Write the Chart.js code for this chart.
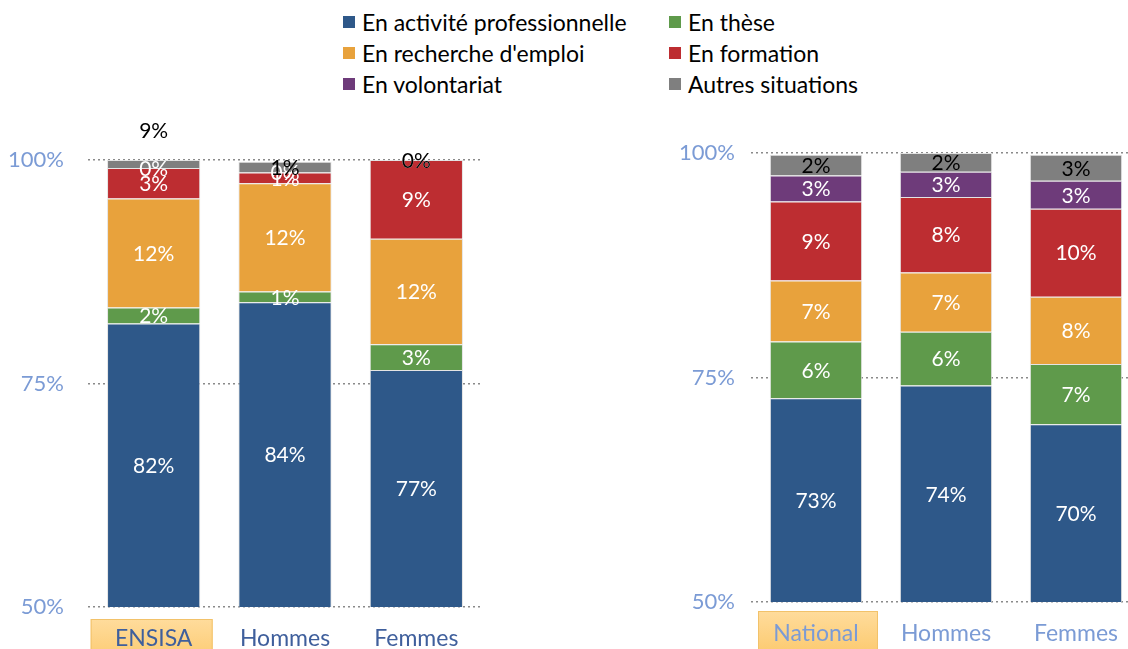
<!DOCTYPE html>
<html>
<head>
<meta charset="utf-8">
<script src="https://cdn.jsdelivr.net/npm/chart.js@4"></script>
<style>
  body { margin: 0; width: 1128px; height: 649px; overflow: hidden; position: relative; background: #fff; font-family: Lato, sans-serif; }
  #legend { position: absolute; left: 343px; top: 9px; display: grid; grid-template-columns: 326px 220px; row-gap: 6px; }
  #legend div { display: flex; align-items: center; font-size: 23px; color: #000; height: 25px; white-space: nowrap; }
  #legend span { display: inline-block; width: 12px; height: 12px; margin-right: 7px; }
  .wrap { position: absolute; top: 100px; width: 490px; height: 549px; }
</style>
</head>
<body>
<div id="legend"></div>
<div class="wrap" style="left:0"><canvas id="left" width="490" height="549"></canvas></div>
<div class="wrap" style="left:660px"><canvas id="right" width="490" height="549"></canvas></div>
<script>
// series, bottom to top of each stack
const seriesNames = ['En activité professionnelle', 'En thèse', "En recherche d'emploi", 'En formation', 'En volontariat', 'Autres situations'];
const seriesColors = ['#2e5889', '#5f9a4b', '#e8a23c', '#bd2d31', '#6e3b7a', '#7f7f7f'];
const legendOrder = [0, 1, 2, 3, 4, 5];

const leftCategories = ['ENSISA', 'Hommes', 'Femmes'];
const leftActivite = [81.7, 84.1, 76.5];
const leftThese = [1.8, 1.2, 2.9];
const leftRecherche = [12.2, 12.1, 11.8];
const leftFormation = [3.4, 1.2, 8.8];
const leftVolontariat = [0, 0, 0];
const leftAutres = [0.9, 1.2, 0];
const leftAutresLabels = ['9%', '1%', '0%'];

const rightCategories = ['National', 'Hommes', 'Femmes'];
const rightActivite = [72.7, 74.1, 69.8];
const rightThese = [6.3, 6.0, 6.7];
const rightRecherche = [6.8, 6.6, 7.5];
const rightFormation = [8.8, 8.4, 9.8];
const rightVolontariat = [2.9, 2.8, 3.1];
const rightAutres = [2.3, 2.1, 2.9];

const yTicks = [50, 75, 100];

// legend
const legend = document.getElementById('legend');
legendOrder.forEach(i => {
  const d = document.createElement('div');
  d.innerHTML = '<span style="background:' + seriesColors[i] + '"></span>' + seriesNames[i];
  legend.appendChild(d);
});

const segmentLabels = {
  id: 'segmentLabels',
  afterDatasetsDraw(chart, args, opts) {
    const { ctx, chartArea } = chart;
    ctx.save();
    ctx.font = '21px Lato';
    ctx.textAlign = 'center';
    ctx.textBaseline = 'middle';
    chart.data.datasets.forEach((ds, i) => {
      chart.getDatasetMeta(i).data.forEach((bar, j) => {
        const top = Math.max(Math.min(bar.y, bar.base), chartArea.top);
        const bottom = Math.min(Math.max(bar.y, bar.base), chartArea.bottom);
        let y = (top + bottom) / 2;
        if (opts.raised && opts.raised.dataset === i && opts.raised.index === j) y = chartArea.top - 30;
        const text = ds.labelText ? ds.labelText[j] : Math.round(ds.data[j]) + '%';
        ctx.fillStyle = i === 5 ? '#000' : '#fff';
        ctx.fillText(text, bar.x, y + 1);
      });
    });
    ctx.restore();
  }
};

const highlightBox = {
  id: 'highlightBox',
  beforeDraw(chart, args, opts) {
    const { ctx } = chart;
    const x = chart.scales.x.getPixelForTick(0) + opts.dx;
    const w = opts.width, y = opts.top, h = 60;
    const g = ctx.createLinearGradient(0, y, 0, y + 40);
    g.addColorStop(0, '#ffdc9c');
    g.addColorStop(1, '#fccb72');
    ctx.save();
    ctx.fillStyle = g;
    ctx.fillRect(x - w / 2, y, w, h);
    ctx.strokeStyle = '#f2c26a';
    ctx.lineWidth = 1;
    ctx.strokeRect(x - w / 2 + 0.5, y + 0.5, w - 1, h);
    ctx.restore();
  }
};

function makeChart(id, categories, values, autresLabels, opt) {
  const datasets = values.map((v, i) => ({
    label: seriesNames[i],
    data: v,
    backgroundColor: seriesColors[i],
    borderColor: 'rgba(225,225,225,0.9)',
    borderWidth: 1,
    barPercentage: 0.71,
    categoryPercentage: 1
  }));
  if (autresLabels) datasets[5].labelText = autresLabels;

  return new Chart(document.getElementById(id), {
    type: 'bar',
    data: { labels: categories, datasets },
    plugins: [highlightBox, segmentLabels],
    options: {
      responsive: false,
      animation: false,
      layout: { padding: { top: opt.top, right: opt.right, left: 0, bottom: 0 } },
      plugins: {
        legend: { display: false },
        tooltip: { enabled: false },
        segmentLabels: { raised: opt.raised },
        highlightBox: { dx: opt.boxDx, width: opt.boxWidth, top: opt.boxTop }
      },
      scales: {
        x: {
          stacked: true,
          grid: { display: false, drawTicks: false },
          border: { display: false },
          ticks: { color: opt.xColor, font: { family: 'Lato', size: 23 }, padding: opt.xPad },
          afterFit: s => { s.height = opt.xHeight; }
        },
        y: {
          stacked: true,
          min: 50,
          max: 100,
          afterBuildTicks: s => { s.ticks = yTicks.map(v => ({ value: v })); },
          grid: { color: '#8a8a8a', lineWidth: 1.5, drawTicks: false },
          border: { display: false, dash: [2, 3] },
          ticks: { color: '#7b9bd5', font: { family: 'Lato', size: 22 }, padding: opt.yPad, callback: v => v + '%' },
          afterFit: s => { s.width = opt.yWidth; }
        }
      }
    }
  });
}

makeChart('left', leftCategories,
  [leftActivite, leftThese, leftRecherche, leftFormation, leftVolontariat, leftAutres],
  leftAutresLabels,
  { top: 60, right: 8, xHeight: 42, yWidth: 88, yPad: 24, xPad: 18, xColor: '#3f5f9c',
    raised: { dataset: 5, index: 0 }, boxDx: -2, boxWidth: 122, boxTop: 519 });

makeChart('right', rightCategories,
  [rightActivite, rightThese, rightRecherche, rightFormation, rightVolontariat, rightAutres],
  null,
  { top: 53, right: 9, xHeight: 47, yWidth: 91, yPad: 16, xPad: 18, xColor: '#7b9bd5',
    raised: null, boxDx: 2, boxWidth: 120, boxTop: 511 });
</script>
</body>
</html>
